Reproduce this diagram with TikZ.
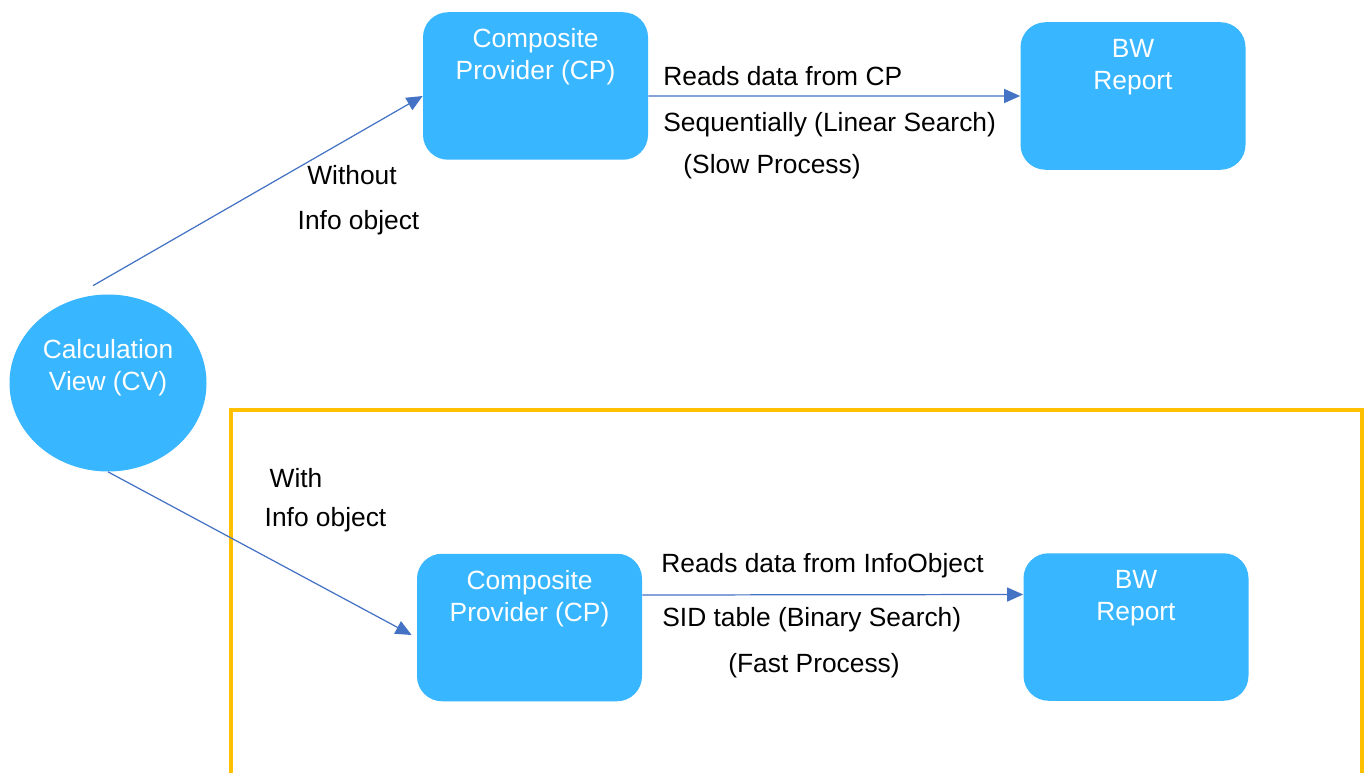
\documentclass[tikz,border=0pt]{standalone}
\usepackage{fontspec}
\setmainfont{Liberation Sans}
\usetikzlibrary{arrows.meta, shapes.geometric}
\definecolor{boxBlue}{HTML}{38B6FF}
\definecolor{lineBlue}{HTML}{4472C4}
\definecolor{frameOrange}{HTML}{FFC000}
\tikzstyle{boxStyle}=[shape = rectangle, rounded corners = 0.5cm, fill = boxBlue, text = white, minimum width = 4.5cm, minimum height = 2.95cm, align = center, font = \fontsize{15pt}{18pt}\selectfont, text height = 0.4cm, text depth = 0.66cm]
\tikzstyle{labelStyle}=[inner sep = 0pt, font = \fontsize{15pt}{18pt}\selectfont]

\begin{document}
\begin{tikzpicture}
\tikzstyle{arrowStyle} = [draw = lineBlue, line width = 0.7pt, -{Triangle[length = 0.32cm, width = 0.28cm]}]
\tikzstyle{ovalStyle} = [shape = ellipse, fill = boxBlue, text = white, minimum width = 3.94cm, minimum height = 3.54cm, inner sep = 0pt, align = center, font = \fontsize{15pt}{18pt}\selectfont, text height = 0.4cm, text depth = 0.12cm]
\useasboundingbox (0, 0) rectangle (27.4, 15.46);
% frame round the lower path
\draw[frameOrange, line width = 2pt] (4.62, 0) -- (4.62, 7.26) -- (27.24, 7.26) -- (27.24, 0);
\node[ovalStyle] (cv) at (2.16, 7.80) {Calculation\\View (CV)};
\node[boxStyle] (cpTop) at (10.71, 13.74) {Composite\\Provider (CP)};
\node[boxStyle] (bwTop) at (22.66, 13.54) {BW\\Report};
\node[boxStyle] (cpBot) at (10.59, 2.91) {Composite\\Provider (CP)};
\node[boxStyle] (bwBot) at (22.72, 2.92) {BW\\Report};
\coordinate (cvStart) at ([shift = {(-0.30, 0.17)}]cv.north);
% labels
\node[labelStyle] (without) at (7.04, 11.96) {Without};
\node[labelStyle] (withoutIO) at (7.17, 11.00) {Info object};
\node[labelStyle, anchor = west] (readsCP) at (13.26, 13.94) {Reads data from CP};
\node[labelStyle, anchor = west] (linear) at (13.26, 12.96) {Sequentially (Linear Search)};
\node[labelStyle] (slow) at (15.44, 12.12) {(Slow Process)};
\node[labelStyle] (with) at (5.92, 5.90) {With};
\node[labelStyle] (withIO) at (6.51, 5.06) {Info object};
\node[labelStyle, anchor = west] (readsIO) at (13.22, 4.14) {Reads data from InfoObject};
\node[labelStyle, anchor = west] (binary) at (13.24, 3.06) {SID table (Binary Search)};
\node[labelStyle] (fast) at (16.28, 2.14) {(Fast Process)};
% connectors
\draw[arrowStyle] (cvStart) -- ([yshift = -0.2cm]cpTop.west);
\draw[arrowStyle] ([yshift = -0.2cm]cpTop.east) -- (bwTop.west);
\draw[arrowStyle] (cv.south) -- ([shift = {(-0.1, -0.15)}]cpBot.west);
\draw[arrowStyle] ([yshift = 0.65cm]cpBot.east) -- ([yshift = 0.65cm]bwBot.west);
\end{tikzpicture}
\end{document}
